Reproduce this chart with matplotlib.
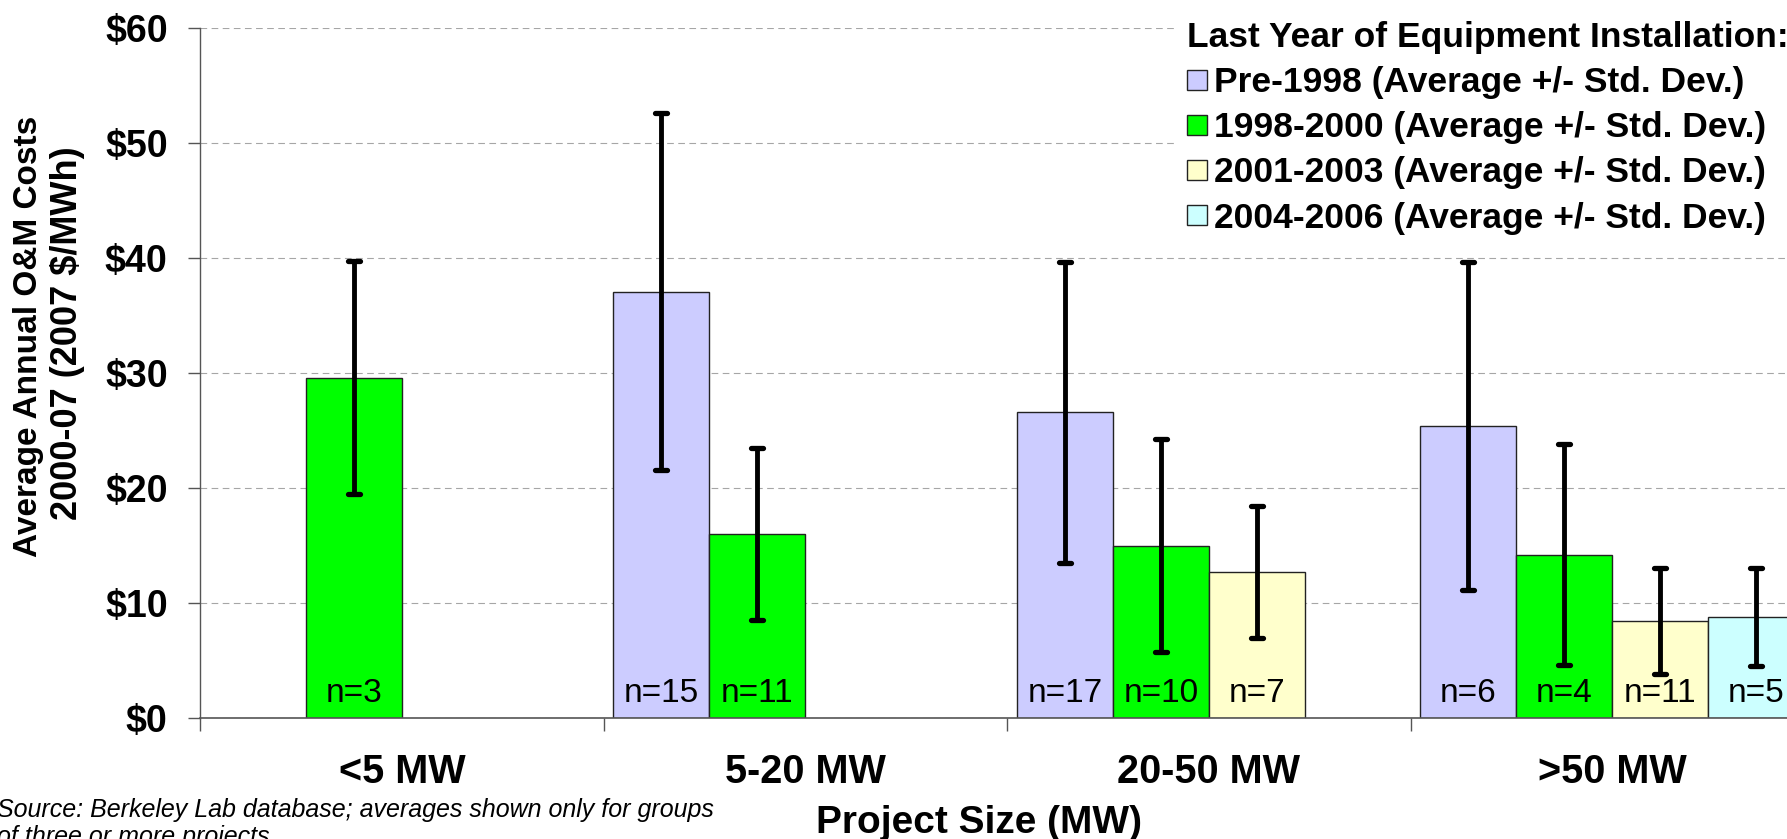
import numpy as np
import matplotlib
matplotlib.use("Agg")
import matplotlib.pyplot as plt
from matplotlib.ticker import FixedLocator
from matplotlib.markers import MarkerStyle

plt.rcParams['font.family'] = ['Liberation Sans', 'DejaVu Sans']

# ---------------- data ----------------
categories = ['<5 MW', '5-20 MW', '20-50 MW', '>50 MW']
series_names = ['Pre-1998 (Average +/- Std. Dev.)',
                '1998-2000 (Average +/- Std. Dev.)',
                '2001-2003 (Average +/- Std. Dev.)',
                '2004-2006 (Average +/- Std. Dev.)']
series_colors = ['#CCCCFF', '#00FF00', '#FFFFCC', '#CCFFFF']

pre1998_avg = [np.nan, 37.1, 26.6, 25.4]
pre1998_sd = [np.nan, 15.5, 13.1, 14.3]
pre1998_n = [None, 15, 17, 6]

y1998_2000_avg = [29.6, 16.0, 15.0, 14.2]
y1998_2000_sd = [10.15, 7.5, 9.25, 9.6]
y1998_2000_n = [3, 11, 10, 4]

y2001_2003_avg = [np.nan, np.nan, 12.7, 8.45]
y2001_2003_sd = [np.nan, np.nan, 5.7, 4.63]
y2001_2003_n = [None, None, 7, 11]

y2004_2006_avg = [np.nan, np.nan, np.nan, 8.77]
y2004_2006_sd = [np.nan, np.nan, np.nan, 4.25]
y2004_2006_n = [None, None, None, 5]

yticks = [0, 10, 20, 30, 40, 50, 60]
ytick_labels = [r'\$0', r'\$10', r'\$20', r'\$30', r'\$40', r'\$50', r'\$60']

averages = [pre1998_avg, y1998_2000_avg, y2001_2003_avg, y2004_2006_avg]
stdevs = [pre1998_sd, y1998_2000_sd, y2001_2003_sd, y2004_2006_sd]
counts = [pre1998_n, y1998_2000_n, y2001_2003_n, y2004_2006_n]

# ---------------- figure ----------------
W, H = 1787, 839
fig = plt.figure(figsize=(W / 100, H / 100), dpi=100)
ax_l, ax_r, ax_t, ax_b = 200.3, 1814.0, 28.3, 718.0
ax = fig.add_axes([ax_l / W, (H - ax_b) / H, (ax_r - ax_l) / W, (ax_b - ax_t) / H])

x = np.arange(len(categories))
bw = 0.238
handles = []
for i, (avg, sd, ns) in enumerate(zip(averages, stdevs, counts)):
    avg = np.array(avg, dtype=float)
    sd = np.array(sd, dtype=float)
    m = np.isfinite(avg)
    xpos = x[m] + (i - 1.5) * bw
    bars = ax.bar(xpos, avg[m], bw, color=series_colors[i], edgecolor='#222222',
                  linewidth=1.0, zorder=2, label=series_names[i])
    handles.append(bars)
    eb = ax.errorbar(xpos, avg[m], yerr=sd[m], fmt='none', ecolor='black',
                     elinewidth=3.5, capsize=4.6, capthick=3.8, zorder=4)
    for cap in eb.lines[1]:
        cap.set_marker(MarkerStyle('_', capstyle='round'))
    for xp, nv in zip(xpos, [n for n, k in zip(ns, m) if k]):
        ax.text(xp, 1.4, f'n={nv}', ha='center', va='baseline', fontsize=24,
                color='black', zorder=3)

ax.set_xlim(-0.5, len(categories) - 0.5)
ax.set_ylim(0, 60)

ax.set_yticks(yticks)
ax.set_yticklabels(ytick_labels, fontsize=27, fontweight='bold')
ax.tick_params(axis='y', direction='out', length=9, width=1, color='#555555', pad=14.5)

ax.set_xticks(x)
ax.set_xticklabels(categories, fontsize=28.5, fontweight='bold')
ax.tick_params(axis='x', which='major', length=0, pad=25.5)
ax.xaxis.set_minor_locator(FixedLocator(np.arange(-0.5, len(categories), 1.0)))
ax.tick_params(axis='x', which='minor', direction='out', length=9, width=1, color='#555555')

ax.grid(axis='y', color='#A6A6A6', linestyle=(0, (6, 4)), linewidth=0.8, zorder=0)
ax.set_axisbelow(True)
for s in ['top', 'right']:
    ax.spines[s].set_visible(False)
ax.spines['left'].set_color('#555555')
ax.spines['bottom'].set_color('#555555')
ax.spines['left'].set_linewidth(1)
ax.spines['bottom'].set_linewidth(1.2)

# y-axis title (two lines)
fig.text(29 / W, (H - 336) / H, 'Average Annual O&M Costs',
         rotation=90, ha='center', va='center', fontsize=24, fontweight='bold')
fig.text(68 / W, (H - 333) / H, '2000-07 (2007 \\$/MWh)',
         rotation=90, ha='center', va='center', fontsize=26, fontweight='bold')

# x-axis title
fig.text(979 / W, (H - 833) / H, 'Project Size (MW)', ha='center', va='baseline',
         fontsize=28, fontweight='bold')

# source note (cut at the bottom edge, as in the original)
fig.text(-3 / W, (H - 844) / H,
         'Source: Berkeley Lab database; averages shown only for groups\nof three or more projects',
         ha='left', va='baseline', fontsize=18, fontstyle='italic', linespacing=1.15)

leg = ax.legend(handles, series_names, title='Last Year of Equipment Installation:',
                loc='upper left', bbox_to_anchor=(1178 / W, (H - 12.5) / H),
                bbox_transform=fig.transFigure,
                prop={'weight': 'bold', 'size': 25.5},
                title_fontproperties={'weight': 'bold', 'size': 25.5},
                frameon=True, facecolor='white', edgecolor='none', framealpha=1,
                fancybox=False, borderpad=0.25, borderaxespad=0,
                handlelength=0.56, handleheight=0.5, handletextpad=0.2,
                labelspacing=0.34, alignment='left')
leg.set_zorder(10)

fig.savefig('out.png', dpi=100)
